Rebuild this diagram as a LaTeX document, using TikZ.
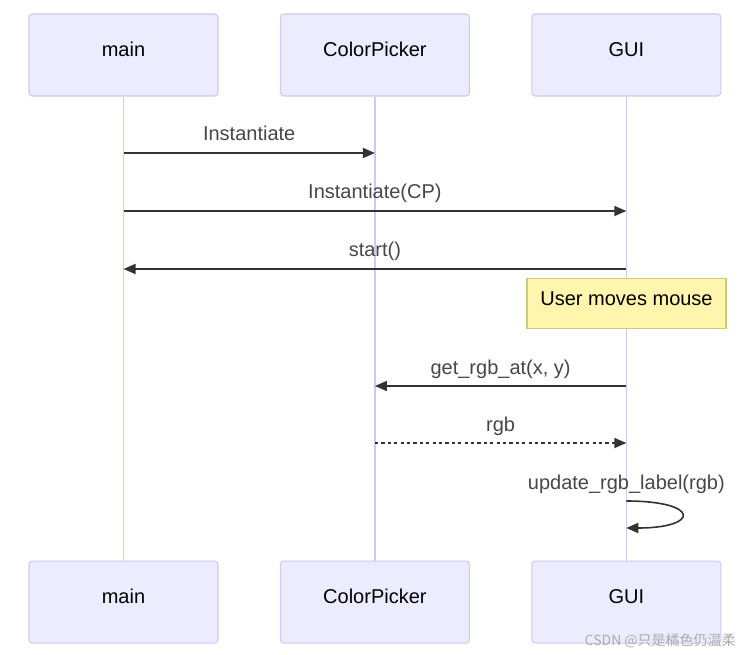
\documentclass[tikz,border=0pt]{standalone}
\usepackage{fontspec}
\setmainfont{Liberation Sans}
\newfontfamily\cjk{Noto Sans CJK SC}
\usepackage{tikz}
\usetikzlibrary{arrows.meta, positioning}
\definecolor{actorfill}{HTML}{ECECFF}
\definecolor{actorline}{HTML}{D0C8F4}
\definecolor{notefill}{HTML}{FFF5AD}
\definecolor{noteline}{HTML}{CFCB74}
\definecolor{msgline}{HTML}{333333}
\tikzstyle{actor} = [rectangle, rounded corners=2.5pt, minimum width=141.75pt, minimum height=61.5pt, inner sep=0pt, text height=10.7pt, text depth=8.1pt, draw=actorline, fill=actorfill, line width=0.8pt, font=\fontsize{15}{18}\selectfont]
\tikzstyle{note} = [rectangle, minimum width=149.25pt, minimum height=37.5pt, inner sep=0pt, text height=10.7pt, text depth=7.4pt, draw=noteline, fill=notefill, line width=0.8pt, font=\fontsize{15}{18}\selectfont]
\tikzstyle{lifeline} = [actorline, line width=1.2pt]
\tikzstyle{msg} = [msgline, line width=1.2pt, -{Triangle[length=9pt,width=7.5pt]}]
\tikzstyle{reply} = [msg, dash pattern=on 2.4pt off 2.4pt]
\tikzstyle{lbl} = [midway, anchor=base, yshift=9pt, inner sep=0pt, text=msgline!90, font=\fontsize{15}{18}\selectfont]

\begin{document}
\begin{tikzpicture}[x=0.75pt, y=-0.75pt]
    \useasboundingbox[fill=white] (0,0) rectangle (745,655);

    % participants
    \node[actor] (mainT) at (123.5,55) {main};
    \node[actor, right=46pt of mainT] (cpT) {ColorPicker};
    \node[actor, right=46pt of cpT] (guiT) {GUI};
    \node[actor, below=348pt of mainT] (mainB) {main};
    \node[actor, below=348pt of cpT] (cpB) {ColorPicker};
    \node[actor, below=348pt of guiT] (guiB) {GUI};

    \draw[lifeline] (mainT) -- (mainB);
    \draw[lifeline] (cpT) -- (cpB);
    \draw[lifeline] (guiT) -- (guiB);

    % messages
    \draw[msg] (mainT |- 0,153) -- node[lbl] {Instantiate} (cpT |- 0,153);
    \draw[msg] (mainT |- 0,211) -- node[lbl] {Instantiate(CP)} (guiT |- 0,211);
    \draw[msg] (guiT |- 0,269) -- node[lbl] {start()} (mainT |- 0,269);

    \node[note] (mouse) at (626.5,303.5) {User moves mouse};

    \draw[msg] (guiT |- 0,386) -- node[lbl] {get\_rgb\_at(x, y)} (cpT |- 0,386);
    \draw[reply] (cpT |- 0,443) -- node[lbl] {rgb} (guiT |- 0,443);

    \coordinate (loopA) at (guiT |- 0,501);
    \coordinate (loopB) at (guiT |- 0,528);
    \node[anchor=base, inner sep=0pt, text=msgline!90, font=\fontsize{15}{18}\selectfont] (update) at (guiT |- 0,489) {update\_rgb\_label(rgb)};
    \draw[msg] (loopA) .. controls +(74,0) and +(74,0) .. (loopB);

    \node[anchor=east, inner sep=0pt, text=gray!65, font=\cjk\fontsize{10.5}{12}\selectfont] (mark) at (736,641) {CSDN @只是橘色仍温柔};
\end{tikzpicture}
\end{document}
